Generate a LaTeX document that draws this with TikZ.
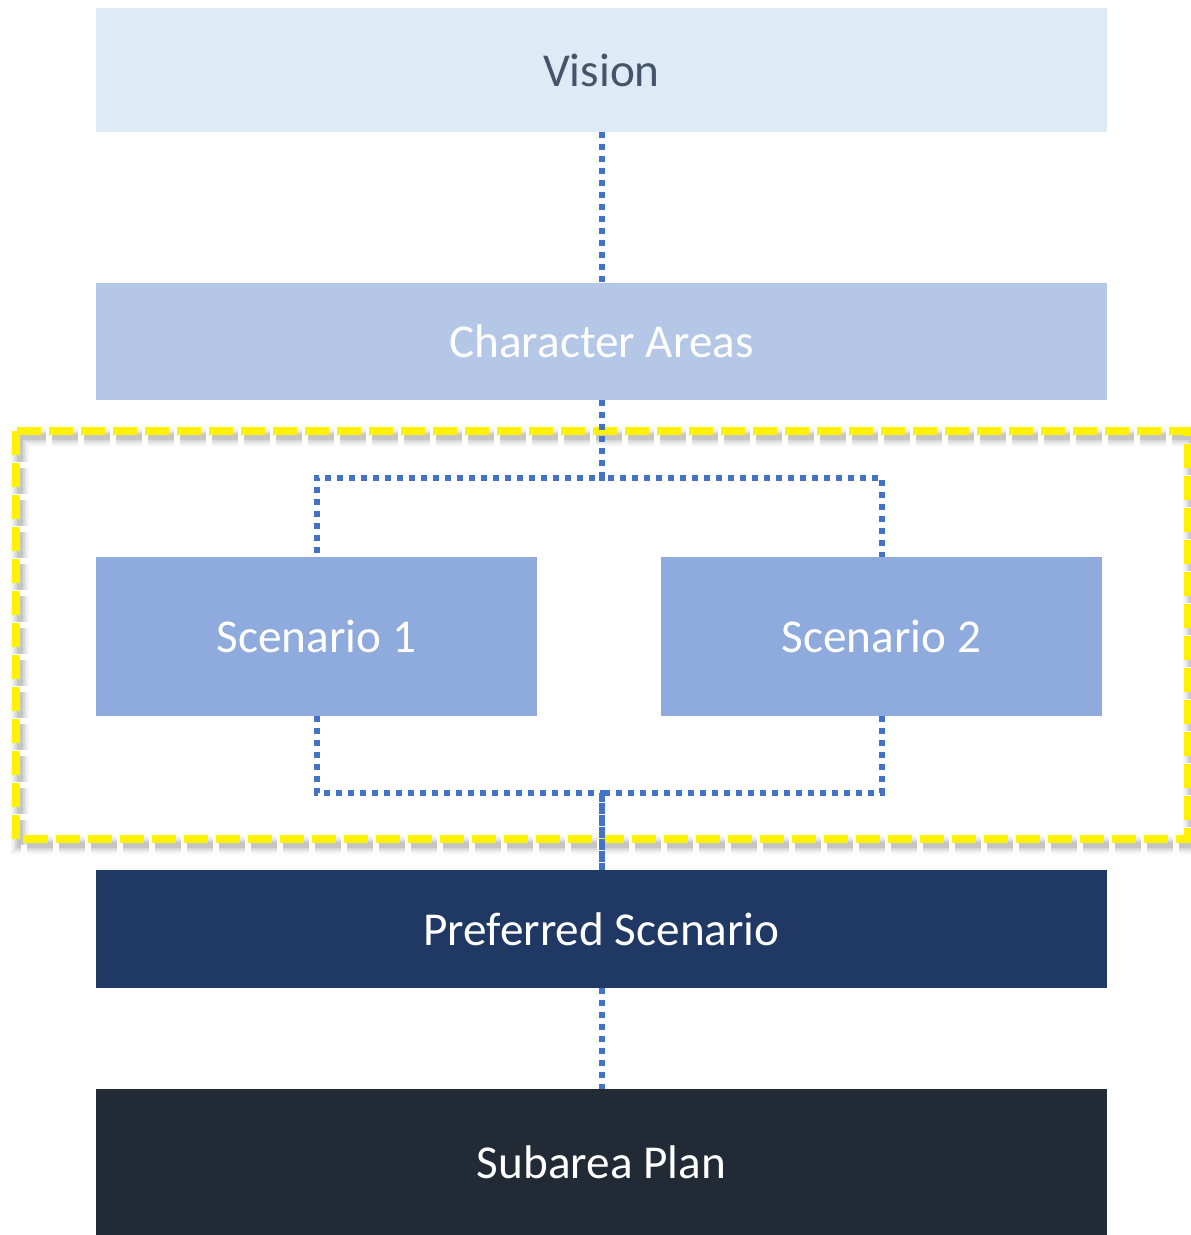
\documentclass[tikz,border=0pt]{standalone}
\usepackage{fontspec}
\setmainfont{Carlito}
\definecolor{visionfill}{HTML}{DEEBF7}
\definecolor{visiontext}{HTML}{44546A}
\definecolor{charfill}{HTML}{B4C7E7}
\definecolor{scenfill}{HTML}{8FAADC}
\definecolor{preffill}{HTML}{203864}
\definecolor{subfill}{HTML}{222A35}
\definecolor{linkblue}{HTML}{4472C4}
\begin{document}
\begin{tikzpicture}[x=0.5pt, y=-0.5pt,
    box/.style={rectangle, inner sep=0pt, text=white, minimum width=505.5pt,
      font=\fontsize{23.6}{28}\selectfont},
    scenbox/.style={box, fill=scenfill, minimum width=220.5pt, minimum height=79.5pt},
    link/.style={draw=linkblue, line width=3pt, dash pattern=on 3pt off 3pt},
    group/.style={draw=yellow, line width=4pt, dash pattern=on 12pt off 4pt},
    groupshadow/.style={group, draw=black, dash pattern=on 13pt off 3pt, dash phase=0.5pt}]
  \useasboundingbox (0,0) rectangle (1190,1235);
  % boxes
  \node[box, fill=visionfill, text=visiontext, minimum height=62pt] (vision) at (601.5,70) {Vision};
  \node[box, fill=charfill, minimum height=58.5pt] (char) at (601.5,341.5) {Character Areas};
  \node[scenbox] (s1) at (316.5,636.5) {Scenario 1};
  \node[scenbox] (s2) at (881.5,636.5) {Scenario 2};
  \node[box, fill=preffill, minimum height=59pt] (pref) at (601.5,929) {Preferred Scenario};
  \node[box, fill=subfill, minimum height=73pt] (sub) at (601.5,1162) {Subarea Plan};
  % scenario group with soft shadow
  \foreach \w/\o in {9pt/0.04, 7pt/0.05, 5pt/0.07, 3pt/0.09}
    \draw[groupshadow, line width=\w, opacity=\o] (19.5,437) rectangle (1192,845);
  \draw[group] (15.5,431) rectangle (1188,839);
  % connectors
  \coordinate (jt) at (601.5,478);
  \coordinate (jb) at (601.5,793);
  \draw[link] (vision.south) -- (char.north);
  \draw[link] (char.south) -- (jt) -| (s1.north);
  \draw[link] (char.south) -- (jt) -| (s2.north);
  \draw[link] (s1.south) |- (jb) -- (pref.north);
  \draw[link] (s2.south) |- (jb) -- (pref.north);
  \draw[link] (pref.south) -- (sub.north);
\end{tikzpicture}
\end{document}
